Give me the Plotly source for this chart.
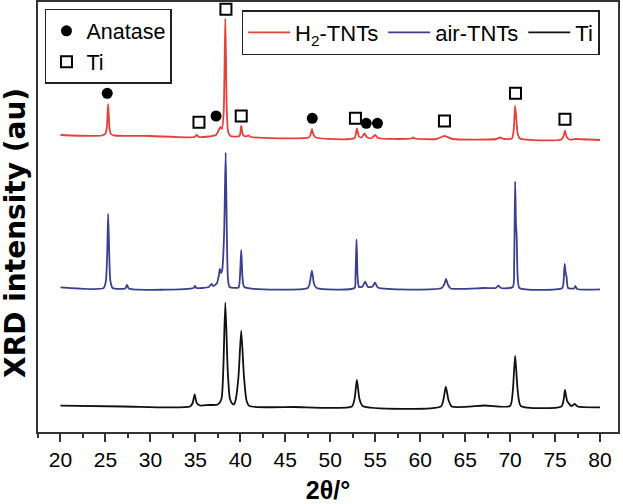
import plotly.graph_objects as go

# ---------------- data ----------------
two_theta_h2 = [20.0, 24.6, 25.0, 25.15, 25.3, 25.45, 25.6, 26.0, 30.0, 34.9, 35.15, 35.4,
                36.5, 37.3, 37.6, 37.8, 37.95, 38.15, 38.33, 38.5, 38.65, 38.9, 39.9, 40.1,
                40.3, 40.6, 40.9, 41.2, 47.6, 47.8, 47.96, 48.15, 48.4, 52.7, 52.96, 53.2,
                53.5, 53.8, 54.1, 54.6, 55.0, 55.3, 59.0, 59.2, 59.4, 61.8, 62.7, 63.6,
                68.5, 68.9, 69.3, 70.2, 70.4, 70.56, 70.7, 70.85, 71.1, 75.7, 75.95, 76.1,
                76.3, 76.6, 77.3, 80.0]
intensity_h2 = [5, 4.5, 6.5, 12, 36, 12, 6, 4.5, 4, 3, 5, 3,
                3.5, 5, 10, 13, 11, 28, 121.5, 28, 8, 4, 4, 14,
                5, 3.5, 4.5, 3, 2.5, 5, 11, 5, 2.5, 2, 11.7, 3.5,
                2.5, 6.7, 2.5, 2, 5, 2, 1.5, 2.5, 1.5, 1, 4, 1,
                1, 2.5, 1, 1.5, 10, 34, 20, 6, 1.5, 0.5, 4, 9.3,
                3, 0.5, 1, 0]

two_theta_air = [20.0, 24.8, 25.05, 25.2, 25.3, 25.42, 25.55, 25.8, 27.2, 27.4, 27.6, 34.8,
                 34.95, 35.1, 36.5, 36.8, 37.0, 37.4, 37.6, 37.72, 37.85, 38.0, 38.2, 38.37,
                 38.5, 38.62, 38.8, 39.8, 39.95, 40.1, 40.25, 40.45, 47.5, 47.7, 47.96, 48.2,
                 48.5, 52.7, 52.8, 52.92, 53.05, 53.2, 53.6, 53.87, 54.2, 54.7, 54.98, 55.3,
                 62.4, 62.7, 62.87, 63.1, 63.4, 67.2, 68.4, 68.7, 69.0, 70.3, 70.45, 70.56,
                 70.65, 70.73, 70.85, 71.05, 75.8, 75.95, 76.07, 76.18, 76.28, 76.45, 77.1, 77.26,
                 77.45, 80.0]
intensity_air = [5.7, 5, 12, 40, 79, 40, 12, 5, 4.5, 8, 4.5, 5,
                 7, 5, 6, 9, 7, 10, 17, 24, 20, 24, 60, 140.3,
                 60, 15, 6, 5.5, 15, 43, 15, 6, 5, 9, 22.3, 9,
                 5, 5, 15, 53.7, 15, 6, 6.5, 11.3, 6, 6.5, 10.3, 5.5,
                 5, 9, 14, 8, 4.5, 5, 5, 7.3, 5, 6, 30, 111.3,
                 70, 57, 15, 5, 5, 12, 29, 20, 16.3, 5, 4.5, 7,
                 4, 3.7]

two_theta_ti = [20.0, 27.0, 34.4, 34.7, 34.92, 35.15, 35.5, 36.5, 37.5, 37.9, 38.1, 38.33,
                38.6, 38.85, 39.15, 39.3, 39.5, 39.8, 40.1, 40.4, 40.7, 41.0, 46.0, 52.4,
                52.7, 52.96, 53.25, 53.6, 62.3, 62.6, 62.85, 63.15, 63.5, 67.2, 70.0, 70.3,
                70.56, 70.85, 71.2, 75.7, 75.95, 76.1, 76.35, 76.8, 77.2, 77.5, 80.0]
intensity_ti = [5.3, 4.5, 4.5, 8, 16.7, 8, 5.5, 6, 6.5, 12, 40, 108.3,
                40, 12, 7, 6.7, 12, 35, 80.3, 35, 10, 5, 4, 4.5,
                12, 31, 12, 5, 4.5, 12, 24.3, 11, 4.5, 5.5, 5, 20,
                55, 20, 5, 4.5, 11, 21, 10, 5, 7, 4.5, 3.7]

# vertical stacking offsets of the three patterns (au)
offsets = {"H2": 292, "air": 139, "Ti": 21}

# peak-assignment symbols placed above the H2-TNTs pattern
anatase_x = [25.2, 37.3, 48.0, 54.0, 55.25]
anatase_y = [46.7, 24.0, 21.7, 16.7, 16.7]
ti_x = [35.4, 38.4, 40.1, 52.8, 62.7, 70.6, 76.1]
ti_y = [17.7, 130.7, 24.0, 21.7, 19.0, 46.7, 20.7]

x_ticks = list(range(20, 81, 5))

# ---------------- figure ----------------
FONT = "Liberation Sans, Arial, Helvetica, sans-serif"
RED = "#e5413a"
BLUE = "#3c3e8e"
BLACK = "#111111"

fig = go.Figure()

fig.add_trace(go.Scatter(
    x=two_theta_h2, y=[v + offsets["H2"] for v in intensity_h2],
    mode="lines", name="H<sub>2</sub>-TNTs",
    line=dict(color=RED, width=1.8, shape="spline", smoothing=0.6),
    legend="legend2"))
fig.add_trace(go.Scatter(
    x=two_theta_air, y=[v + offsets["air"] for v in intensity_air],
    mode="lines", name="air-TNTs",
    line=dict(color=BLUE, width=1.8, shape="spline", smoothing=0.6),
    legend="legend2"))
fig.add_trace(go.Scatter(
    x=two_theta_ti, y=[v + offsets["Ti"] for v in intensity_ti],
    mode="lines", name="Ti",
    line=dict(color=BLACK, width=1.8, shape="spline", smoothing=0.6),
    legend="legend2"))

fig.add_trace(go.Scatter(
    x=anatase_x, y=[v + offsets["H2"] for v in anatase_y],
    mode="markers", name="Anatase",
    marker=dict(symbol="circle", size=11, color="black"),
    legend="legend"))
fig.add_trace(go.Scatter(
    x=ti_x, y=[v + offsets["H2"] for v in ti_y],
    mode="markers", name="Ti",
    marker=dict(symbol="square-open", size=11, color="black", line=dict(width=2, color="black")),
    legend="legend"))

fig.update_layout(
    width=623, height=504,
    margin=dict(l=37.5, r=5, t=2, b=72),
    paper_bgcolor="white", plot_bgcolor="white",
    font=dict(family=FONT, size=21, color="black"),
    showlegend=True,
    legend=dict(
        x=0.012, y=0.984, xanchor="left", yanchor="top",
        bgcolor="white", bordercolor="#222", borderwidth=1.5,
        font=dict(size=21.5), orientation="v", traceorder="normal"),
    legend2=dict(
        x=0.351, y=0.981, xanchor="left", yanchor="top",
        bgcolor="white", bordercolor="#222", borderwidth=1.5, itemwidth=42,
        font=dict(size=22), orientation="h", traceorder="normal"),
    annotations=[dict(
        text="<b>XRD intensity (au)</b>", textangle=-90,
        xref="paper", yref="paper", x=-0.0387, y=0.462,
        xanchor="center", yanchor="middle", showarrow=False,
        font=dict(size=28, family="DejaVu Sans, Liberation Sans, sans-serif", color="black"))],
)

fig.update_xaxes(
    range=[17.5, 82.0], tickmode="array", tickvals=x_ticks,
    ticktext=[str(t) for t in x_ticks],
    ticks="outside", ticklen=8, tickwidth=1.5, tickcolor="#333",
    minor=dict(dtick=2.5, tick0=20, ticks="outside", ticklen=4.5, tickwidth=1.5, tickcolor="#333"),
    showline=True, linecolor="#333", linewidth=1.5, mirror=True,
    showgrid=False, zeroline=False, automargin=False,
    tickfont=dict(size=21, family=FONT),
    title=dict(text="<b>2θ/°</b>", font=dict(size=25, family=FONT), standoff=14),
)
fig.update_yaxes(
    range=[0, 430], showticklabels=False, ticks="",
    showline=True, linecolor="#333", linewidth=1.5, mirror=True,
    showgrid=False, zeroline=False, automargin=False,
)

fig.write_html("out.html", config={"displayModeBar": False},
               post_script="document.body.style.margin='0px';")
